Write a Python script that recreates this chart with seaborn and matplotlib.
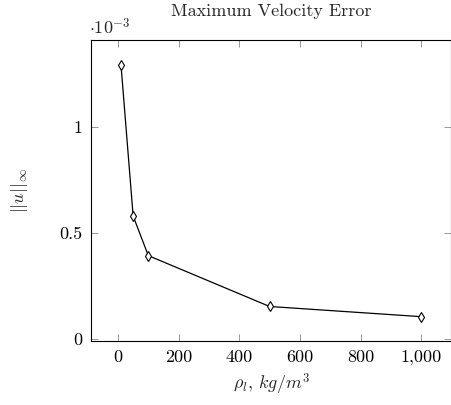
"""
Maximum velocity error vs liquid density
"""
import matplotlib
matplotlib.use("Agg")
import matplotlib.pyplot as plt
import matplotlib.ticker as mticker
import seaborn as sns
import pandas as pd

# data
rho_l = [10, 50, 100, 500, 1000]
u_max = [1.292e-3, 0.58e-3, 0.393e-3, 0.153e-3, 0.105e-3]
x_ticks = [0, 200, 400, 600, 800, 1000]
y_ticks = [0, 0.5e-3, 1e-3]

sns.set_theme(style="white")
plt.rcParams['font.family'] = ['cmr10', 'DejaVu Serif']
plt.rcParams['mathtext.fontset'] = 'cm'
plt.rcParams['axes.formatter.use_mathtext'] = True

df = pd.DataFrame({"rho": rho_l, "u": u_max})

fig = plt.figure(figsize=(4.52, 4.05), dpi=100)
ax = fig.add_axes([0.2013, 0.158, 0.797, 0.743])

sns.lineplot(data=df, x="rho", y="u", ax=ax, color="black", linewidth=0.9,
             marker="d", markersize=5.5, markerfacecolor="white",
             markeredgecolor="black", markeredgewidth=0.8)

ax.set_xlim(-89, 1099)
ax.set_ylim(-0.0000099, 0.00141)
ax.set_xticks(x_ticks)
ax.set_yticks(y_ticks)
ax.xaxis.set_major_formatter(mticker.FuncFormatter(lambda v, p: f"{int(v):,}"))
ax.yaxis.set_major_formatter(mticker.FuncFormatter(lambda v, p: f"{v*1e3:g}"))

for s in ax.spines.values():
    s.set_color("black")
    s.set_linewidth(0.8)
ax.tick_params(direction="in", length=5, width=0.6, color="#888888",
               top=True, right=True, bottom=True, left=True,
               labelsize=13, labelcolor="black", pad=6)

ax.text(-0.005, 1.01, r"$\cdot 10^{-3}$", transform=ax.transAxes,
        ha="left", va="bottom", fontsize=13)
ax.set_title("Maximum Velocity Error", fontsize=13, pad=17)
ax.set_xlabel(r"$\rho_l,\, kg/m^3$", fontsize=13, labelpad=5)
ax.set_ylabel(r"$||u||_\infty$", fontsize=13, labelpad=21)

fig.savefig("out.png", dpi=100)
plt.close()
